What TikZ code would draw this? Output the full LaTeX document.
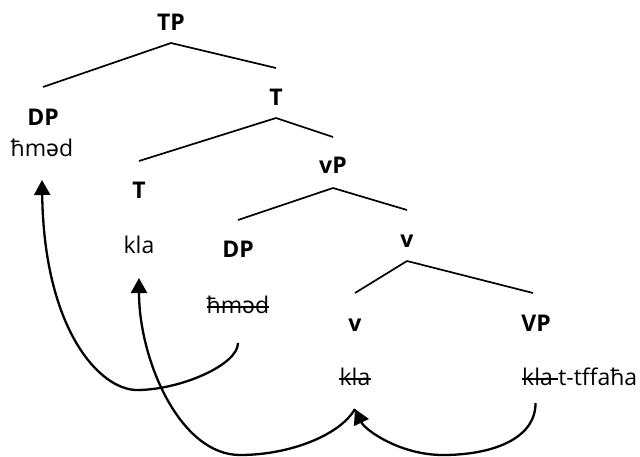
\documentclass[tikz,border=0pt]{standalone}
\usepackage{fontspec}
\setmainfont{Open Sans}
\newfontfamily\ipafont{Noto Sans}
\newcommand{\schwa}{{\ipafont ə}}
\usetikzlibrary{arrows.meta}
\begin{document}
\begin{tikzpicture}[x=1pt,y=1pt,
  lbl/.style={inner sep=0pt, anchor=base, font=\fontsize{23}{28}\selectfont\bfseries},
  wrd/.style={inner sep=0pt, anchor=base, font=\fontsize{23}{28}\selectfont},
  branch/.style={line width=1.7pt},
  move/.style={line width=2.3pt, -{Triangle[length=15pt,width=16pt]}},
  strikeline/.style={line width=1.7pt}]
\useasboundingbox (0,0) rectangle (640,-456);
% labels
\node[lbl] (tp)  at (171,-30)  {TP};
\node[lbl] (dp1) at (43,-125)  {DP};
\node[wrd] (hmed1) at (42,-156) {ħm\schwa d};
\node[lbl] (t1)  at (276,-105) {T};
\node[lbl] (t2)  at (139,-198) {T};
\node[wrd] (klaT) at (139,-253) {kla};
\node[lbl] (vp)  at (333,-173) {vP};
\node[lbl] (dp2) at (238,-257) {DP};
\node[wrd] (hmed2) at (238,-313) {ħm\schwa d};
\node[lbl] (v1)  at (407,-247) {v};
\node[lbl] (v2)  at (355,-331) {v};
\node[lbl] (VP)  at (536,-331) {VP};
\node[wrd] (klaV) at (355,-385) {kla};
\node[wrd, anchor=base west] (klaVP) at (522,-385) {kla};
\node[wrd, anchor=base west] (tff) at ([xshift=5pt]klaVP.base east) {t-tffaħa};
% strike-outs
\draw[strikeline] ([yshift=6pt]hmed2.base west) -- ([yshift=6pt]hmed2.base east);
\draw[strikeline] ([yshift=6pt]klaV.base west) -- ([yshift=6pt]klaV.base east);
\draw[strikeline] ([yshift=6pt]klaVP.base west) -- ([yshift=6pt]tff.base west);
% branches
\draw[branch] ([yshift=-13pt]tp.base) -- ([yshift=38pt]dp1.base);
\draw[branch] ([yshift=-13pt]tp.base) -- ([yshift=37pt]t1.base);
\draw[branch] ([yshift=-13pt]t1.base) -- ([yshift=37pt]t2.base);
\draw[branch] ([yshift=-13pt]t1.base) -- ([yshift=36pt]vp.base);
\draw[branch] ([yshift=-15pt]vp.base) -- ([yshift=37pt]dp2.base);
\draw[branch] ([yshift=-15pt]vp.base) -- ([yshift=37pt]v1.base);
\draw[branch] ([yshift=-14pt]v1.base) -- ([yshift=38pt]v2.base);
\draw[branch] ([yshift=-14pt]v1.base) -- ([xshift=-3pt,yshift=38pt]VP.base);
% movement arrows
\coordinate (low1) at (137,-390);
\coordinate (low2) at (240,-455);
\coordinate (low3) at (443,-455);
\draw[move] ([yshift=-30pt]hmed2.base) .. controls +(0,-22) and +(43,0) .. (low1)
  .. controls +(-37,0) and +(2,-150) .. ([yshift=-24pt]hmed1.base);
\draw[move] ([yshift=-24pt]klaV.base) .. controls +(-15,-26) and +(50,0) .. (low2)
  .. controls +(-60,0) and +(0,-82) .. ([yshift=-25pt]klaT.base);
\draw[move] ([xshift=-2pt,yshift=-18pt]klaVP.base) .. controls +(0,-37) and +(47,0) .. (low3)
  .. controls +(-43,0) and +(10,-21) .. ([yshift=-24pt]klaV.base);
\end{tikzpicture}
\end{document}
